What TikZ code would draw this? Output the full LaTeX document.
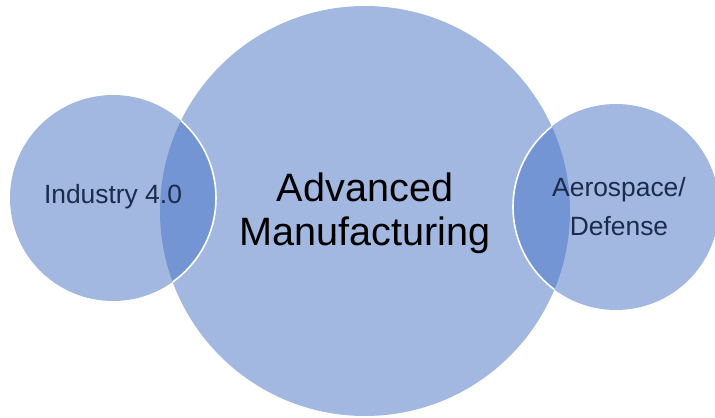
\documentclass[tikz,border=0pt]{standalone}
\usepackage{tikz}
\usepackage{xcolor}
\usepackage{fontspec}
\setmainfont{Liberation Sans}
\definecolor{circblue}{HTML}{A2B8E0}
\definecolor{lapblue}{HTML}{7395D3}
\definecolor{navytext}{HTML}{1B2B4B}
\def\rmfg{153.75pt}
\def\rside{77.25pt}

\begin{document}
\begin{tikzpicture}[x=0.75pt, y=-0.75pt,
    labelsmall/.style={text=navytext, font=\fontsize{19.8}{29.25}\selectfont, align=center},
    labelbig/.style={text=black, font=\fontsize{29.7}{33}\selectfont, align=center}]
    \clip (0,0) rectangle (715,418);
    \coordinate (mfg) at (365,211);
    \coordinate (ind) at (113,198);
    \coordinate (aero) at (616,207);
    % circles
    \fill[circblue] (mfg) circle (\rmfg);
    \fill[circblue] (ind) circle (\rside);
    \fill[circblue] (aero) circle (\rside);
    % overlaps
    \begin{scope}
      \clip (mfg) circle (\rmfg);
      \fill[lapblue] (ind) circle (\rside);
      \fill[lapblue] (aero) circle (\rside);
      \draw[white, line width=1.2pt] (ind) circle (\rside);
      \draw[white, line width=1.2pt] (aero) circle (\rside);
    \end{scope}
    % labels
    \node[labelbig] (mfglabel) at (365,213) {Advanced\\Manufacturing};
    \node[labelsmall] (indlabel) at (113,197) {Industry 4.0};
    \node[labelsmall] (aerolabel) at (619,207) {Aerospace/\\Defense};
\end{tikzpicture}
\end{document}
